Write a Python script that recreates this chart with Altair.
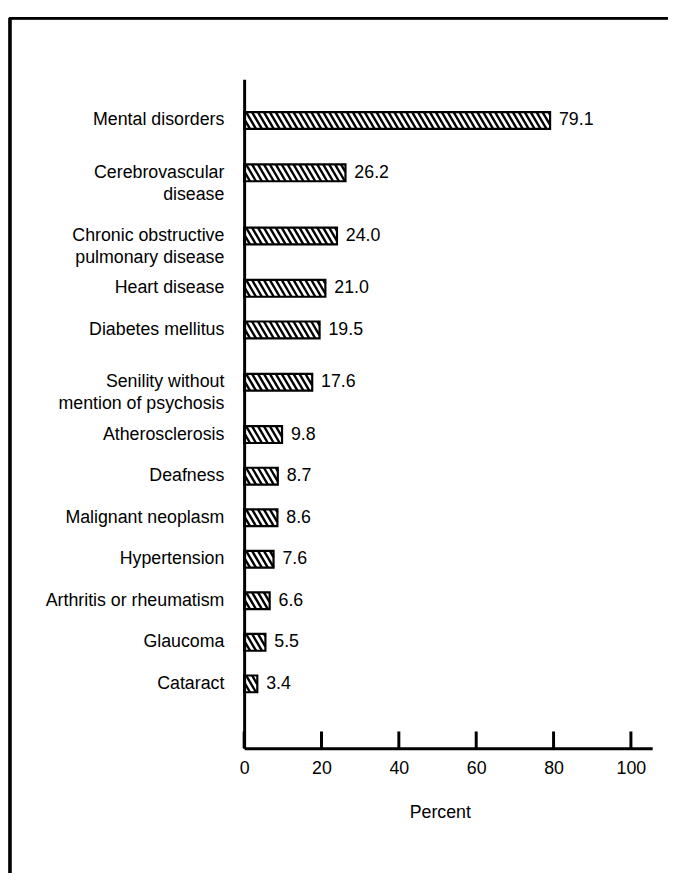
import altair as alt
import pandas as pd

categories = [
    "Mental disorders",
    "Cerebrovascular\ndisease",
    "Chronic obstructive\npulmonary disease",
    "Heart disease",
    "Diabetes mellitus",
    "Senility without\nmention of psychosis",
    "Atherosclerosis",
    "Deafness",
    "Malignant neoplasm",
    "Hypertension",
    "Arthritis or rheumatism",
    "Glaucoma",
    "Cataract",
]
values = [79.1, 26.2, 24.0, 21.0, 19.5, 17.6, 9.8, 8.7, 8.6, 7.6, 6.6, 5.5, 3.4]
tick_values = [0, 20, 40, 60, 80, 100]

FONT = "Liberation Sans"
W, H = 413, 677
X_MAX = 105.5
PX_PER_X = W / X_MAX

# vertical slot positions: two-line labels get a little extra room
extra = [c.count("\n") for c in categories]
pos = [0.0]
for i in range(1, len(categories)):
    pos.append(pos[-1] + 1 + 0.26 * (extra[i - 1] + extra[i]))
Y_MIN = -0.99
Y_MAX = pos[-1] + 1.55
PX_PER_Y = H / (Y_MAX - Y_MIN)
half = 8.5 / PX_PER_Y

bars = pd.DataFrame({
    "label": categories,
    "value": values,
    "pos": pos,
})
bars["zero"] = 0.0
bars["top"] = bars["pos"] - half
bars["bot"] = bars["pos"] + half

# diagonal hatch segments ("\\\\") clipped to each bar
s = 6.0 / PX_PER_X
d = 10.0 / PX_PER_X
rows = []
for lab, v, p in zip(categories, values, pos):
    k = 0
    while True:
        x0 = -d + k * s
        if x0 >= v:
            break
        t0 = max(0.0, (0 - x0) / d)
        t1 = min(1.0, (v - x0) / d)
        if t1 > t0:
            rows.append({
                "x": x0 + d * t0, "x2": x0 + d * t1,
                "y": p - half + 2 * half * t0, "y2": p - half + 2 * half * t1,
            })
        k += 1
hatch = pd.DataFrame(rows)
ticks = pd.DataFrame({"tick": tick_values})

xscale = alt.Scale(domain=[0, X_MAX], nice=False, zero=False)
yscale = alt.Scale(domain=[Y_MIN, Y_MAX], nice=False, zero=False, reverse=True)

xaxis = alt.Axis(
    values=tick_values, format="d", ticks=False, grid=False, labelFlush=False,
    domainWidth=3, domainColor="black",
    labelFont=FONT, labelFontSize=18, labelColor="black", labelPadding=12,
    title="Percent", titleFont=FONT, titleFontSize=18, titleFontWeight="normal",
    titleColor="black", titleX=198, titleY=70, titleBaseline="alphabetic",
    titleAlign="center",
)
yaxis = alt.Axis(
    labels=False, ticks=False, grid=False, domainWidth=3, domainColor="black", title=None,
)


def X(field):
    return alt.X(field, type="quantitative", scale=xscale, axis=xaxis, title="Percent")


def Y(field):
    return alt.Y(field, type="quantitative", scale=yscale, axis=yaxis, title=None)


hatch_layer = alt.Chart(hatch).mark_rule(color="black", strokeWidth=2.4, strokeCap="butt").encode(
    x=X("x"), x2="x2:Q", y=Y("y"), y2="y2:Q",
)

outline = alt.Chart(bars).mark_rect(fill="white", fillOpacity=0, stroke="black", strokeWidth=2.2).encode(
    x=X("zero"), x2="value:Q", y=Y("top"), y2="bot:Q",
)

value_text = alt.Chart(bars).mark_text(
    align="left", baseline="middle", dx=9, font=FONT, fontSize=18, color="black"
).encode(
    x=X("value"), y=Y("pos"),
    text=alt.Text("value:Q", format=".1f"),
)

cat_text = alt.Chart(bars).mark_text(
    align="right", baseline="middle", font=FONT, fontSize=18, color="black",
    lineBreak="\n", lineHeight=22,
).encode(
    x=alt.value(-20), y=Y("pos"), text="label:N",
)

tick_layer = alt.Chart(ticks).mark_rule(color="black", strokeWidth=3).encode(
    x=X("tick"), y=alt.value(H - 17), y2=alt.value(H),
)

frame_left = alt.Chart(ticks).mark_rule(color="black", strokeWidth=2.5).encode(
    x=alt.value(-237), y=alt.value(-62), y2=alt.value(H + 130)
)
frame_top = alt.Chart(ticks).mark_rule(color="black", strokeWidth=2.5).encode(
    x=alt.value(-238), x2=alt.value(430), y=alt.value(-62)
)

chart = alt.layer(
    hatch_layer, outline, value_text, cat_text, tick_layer, frame_left, frame_top
).properties(
    width=W, height=H,
    autosize=alt.AutoSizeParams(type="none"),
    padding={"left": 239, "top": 67, "right": 16, "bottom": 121},
    background="white",
).configure_view(stroke=None)

chart.save("out.html", embed_options={"renderer": "svg", "actions": False})
